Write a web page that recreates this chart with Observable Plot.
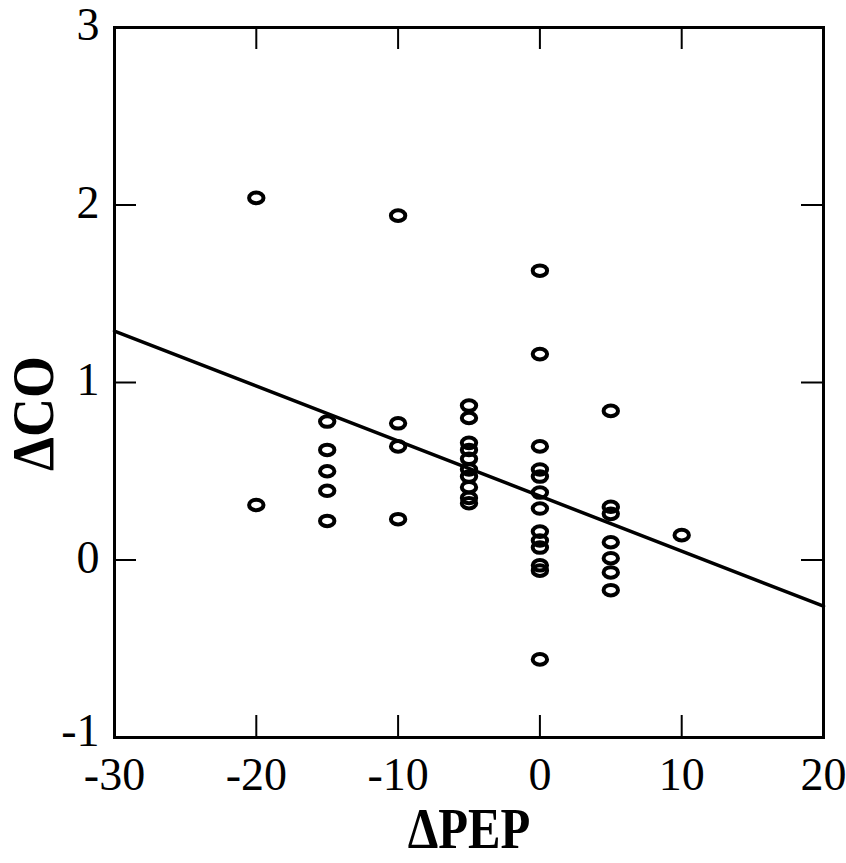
<!DOCTYPE html>
<html>
<head>
<meta charset="utf-8">
<script src="https://cdn.jsdelivr.net/npm/d3@7"></script>
<script src="https://cdn.jsdelivr.net/npm/@observablehq/plot@0.6"></script>
<style>
  html, body { margin: 0; padding: 0; background: #fff; }
</style>
</head>
<body>
<div id="chart"></div>
<script>
// Data
const pepX = [
  -20, -20,
  -15, -15, -15, -15, -15,
  -10, -10, -10, -10,
  -5, -5, -5, -5, -5, -5, -5, -5, -5, -5,
  0, 0, 0, 0, 0, 0, 0, 0, 0, 0, 0, 0, 0,
  5, 5, 5, 5, 5, 5, 5,
  10
];
const coY = [
  2.04, 0.31,
  0.78, 0.62, 0.50, 0.39, 0.22,
  1.94, 0.77, 0.64, 0.23,
  0.87, 0.80, 0.66, 0.62, 0.57, 0.51, 0.47, 0.41, 0.35, 0.32,
  1.63, 1.16, 0.64, 0.51, 0.47, 0.38, 0.29, 0.16, 0.11, 0.07, -0.03, -0.06, -0.56,
  0.84, 0.30, 0.26, 0.10, 0.01, -0.07, -0.17,
  0.14
];
const fitX = [-30, 20];
const fitY = [1.29, -0.26];
const xTicks = [-30, -20, -10, 0, 10, 20];
const yTicks = [0, 1, 2, 3];
const yBottomTick = [-1];
const xInnerTicks = [-20, -10, 0, 10];
const yInnerTicks = [0, 1, 2];
const xTitle = "ΔPEP";
const yTitle = "ΔCO";

const points = pepX.map((x, i) => ({x, y: coY[i]}));
const fit = fitX.map((x, i) => ({x, y: fitY[i]}));

const W = 846, H = 863;
const mL = 114, mR = 23, mT = 27, mB = 126;
const innerW = W - mL - mR, innerH = H - mT - mB;
const tickLen = 22;

const ellipse = {
  draw(context, size) {
    const r = Math.sqrt(size / Math.PI);
    const rx = r * 1.2, ry = r * 0.88, k = 0.5523;
    context.moveTo(rx, 0);
    context.bezierCurveTo(rx, ry * k, rx * k, ry, 0, ry);
    context.bezierCurveTo(-rx * k, ry, -rx, ry * k, -rx, 0);
    context.bezierCurveTo(-rx, -ry * k, -rx * k, -ry, 0, -ry);
    context.bezierCurveTo(rx * k, -ry, rx, -ry * k, rx, 0);
    context.closePath();
  }
};

const serif = "'Liberation Serif', 'Times New Roman', serif";

const chart = Plot.plot({
  width: W,
  height: H,
  marginLeft: mL,
  marginRight: mR,
  marginTop: mT,
  marginBottom: mB,
  style: {fontFamily: serif, background: "#fff", color: "#000", overflow: "visible"},
  x: {domain: [-30, 20], axis: null},
  y: {domain: [-1, 3], axis: null},
  marks: [
    // inward ticks
    Plot.tickX(xInnerTicks, {x: d => d, insetTop: innerH - tickLen, stroke: "#000", strokeWidth: 2}),
    Plot.tickX(xInnerTicks, {x: d => d, insetBottom: innerH - tickLen, stroke: "#000", strokeWidth: 2}),
    Plot.tickY(yInnerTicks, {y: d => d, insetRight: innerW - tickLen, stroke: "#000", strokeWidth: 2}),
    Plot.tickY(yInnerTicks, {y: d => d, insetLeft: innerW - tickLen, stroke: "#000", strokeWidth: 2}),
    Plot.frame({stroke: "#000", strokeWidth: 3}),
    // regression line
    Plot.line(fit, {x: "x", y: "y", stroke: "#000", strokeWidth: 3.5}),
    // points
    Plot.dot(points, {x: "x", y: "y", symbol: ellipse, r: 6, stroke: "#000", strokeWidth: 4, fill: "none"}),
    // tick labels
    Plot.text(xTicks, {x: d => d, frameAnchor: "bottom", lineAnchor: "middle", textAnchor: "middle", dy: 38, text: d => String(d), fontSize: 46, fill: "#000"}),
    Plot.text(yTicks, {y: d => d, frameAnchor: "left", lineAnchor: "middle", dx: -15, dy: -2, textAnchor: "end", text: d => String(d), fontSize: 46, fill: "#000"}),
    Plot.text(yBottomTick, {y: d => d, frameAnchor: "left", lineAnchor: "middle", dx: -15, dy: -6, textAnchor: "end", text: d => String(d), fontSize: 46, fill: "#000"}),
    // axis titles
    Plot.text([xTitle], {frameAnchor: "bottom", lineAnchor: "middle", textAnchor: "middle", dy: 93, text: d => d, fontSize: 56, fontWeight: "bold", fill: "#000"}),
    Plot.text([yTitle], {frameAnchor: "left", lineAnchor: "middle", textAnchor: "middle", dx: -81, dy: 31, rotate: -90, text: d => d, fontSize: 60, fontWeight: "bold", fill: "#000"})
  ]
});

// condense the bold axis titles horizontally, as in the reference
chart.querySelectorAll("text").forEach(t => {
  const s = t.textContent;
  let k = null;
  if (s === xTitle) k = 0.87;
  else if (s === yTitle) k = 0.9;
  if (k != null) {
    const tr = t.getAttribute("transform") || "";
    t.setAttribute("transform", tr + ` scale(${k},1)`);
  }
});

document.getElementById("chart").appendChild(chart);
</script>
</body>
</html>
